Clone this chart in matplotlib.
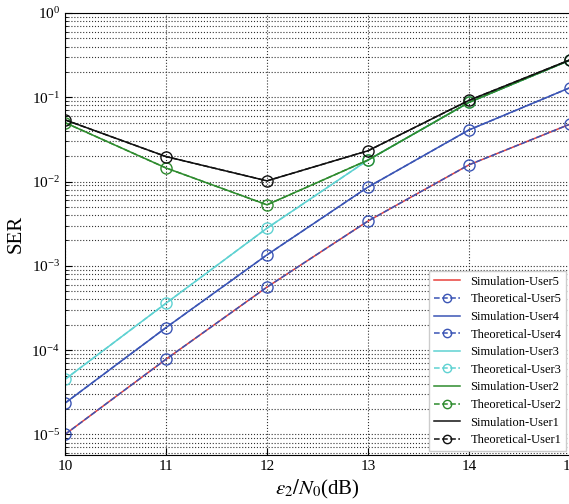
import matplotlib.pyplot as plt

plt.rcParams['font.family'] = ['Liberation Serif', 'DejaVu Serif']
plt.rcParams['mathtext.fontset'] = 'stix'

snr = [10, 11, 12, 13, 14, 15]
ser_user1 = [0.054, 0.0198, 0.0102, 0.0232, 0.092, 0.278]
ser_user2 = [0.050, 0.0145, 0.0053, 0.0180, 0.087, 0.276]
ser_user3 = [4.5e-5, 3.6e-4, 2.8e-3, 0.0180, 0.087, 0.276]
ser_user4 = [2.35e-5, 1.85e-4, 1.35e-3, 8.6e-3, 0.041, 0.13]
ser_user5 = [1.0e-5, 7.8e-5, 5.6e-4, 3.4e-3, 0.0158, 0.048]

users = [
    ('User5', ser_user5, '#e8413c', '#3b55b5'),
    ('User4', ser_user4, '#3b55b5', '#3b55b5'),
    ('User3', ser_user3, '#5fd2d2', '#5fd2d2'),
    ('User2', ser_user2, '#2e8b2e', '#2e8b2e'),
    ('User1', ser_user1, '#111111', '#111111'),
]

fig = plt.figure(figsize=(5.69, 5.04), dpi=100)
ax = fig.add_axes([65 / 569, 1 - 455 / 504, 505 / 569, 442 / 504])

for name, vals, sim_c, th_c in users:
    ax.semilogy(snr, vals, '-', color=sim_c, lw=1.1, label='Simulation-' + name)
    ax.semilogy(snr, vals, '--', color=th_c, lw=1.1, marker='o', ms=8,
                mfc='none', mec=th_c, mew=1.0, label='Theoretical-' + name)

ax.set_xlim(10, 15)
ax.set_ylim(5.7e-6, 1)
ax.set_xticks(snr)
ax.grid(True, which='both', ls=':', color='#333333', lw=0.8)
ax.tick_params(which='both', direction='in', labelsize=11)
ax.tick_params(which='major', length=5)
ax.set_xlabel(r'$\varepsilon_2/N_0$(dB)', fontsize=15)
ax.set_ylabel('SER', fontsize=15)
ax.legend(loc='lower right', fontsize=9, framealpha=1, edgecolor='#cccccc',
          fancybox=False, borderpad=0.4, labelspacing=0.45, handlelength=2.1,
          handletextpad=0.8, markerscale=0.75, borderaxespad=0.3)

fig.savefig('out.png', dpi=100)
